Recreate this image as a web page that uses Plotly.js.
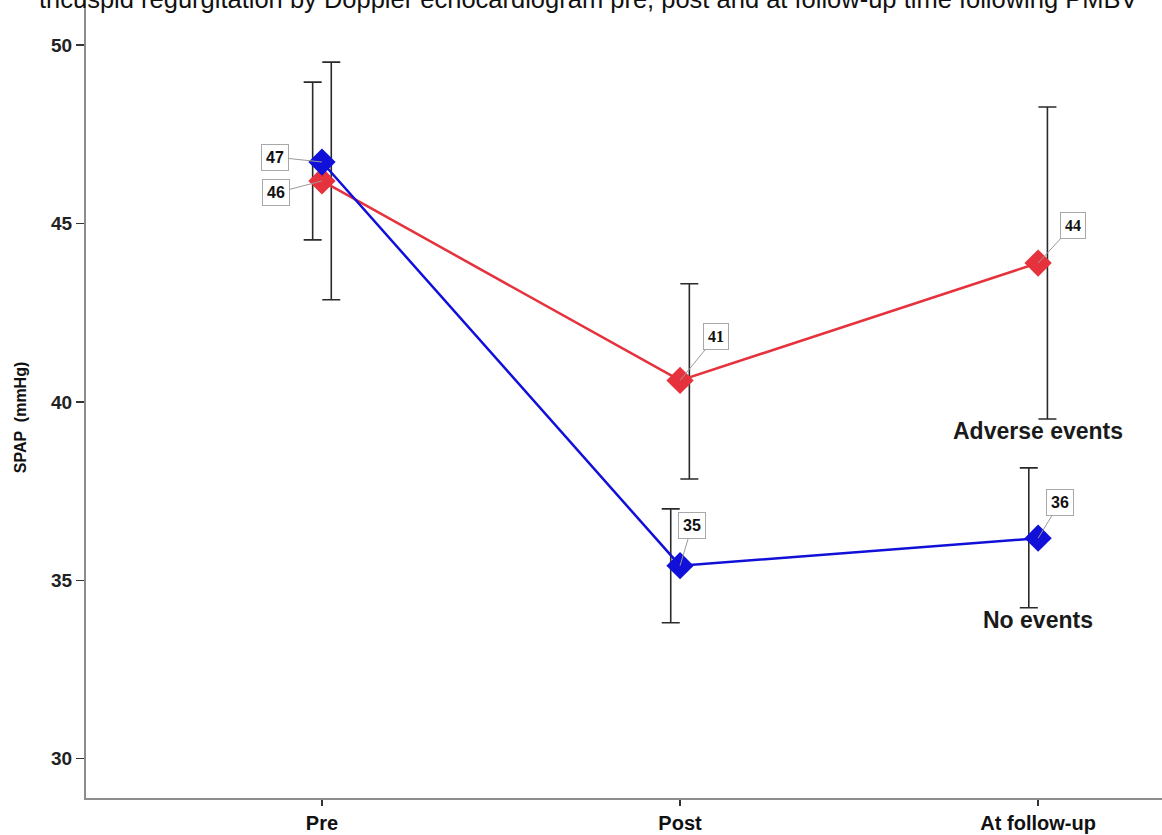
<!DOCTYPE html>
<html>
<head>
<meta charset="utf-8">
<script src="https://cdn.plot.ly/plotly-3.0.1.min.js"></script>
<style>html,body{margin:0;padding:0;background:#fff;}#chart{width:1162px;height:835px;}</style>
</head>
<body>
<div id="chart"></div>
<script>
// ---- data ----
var categories = ["Pre", "Post", "At follow-up"];
var adverseMean = [46.19, 40.60, 43.89];
var adverseUpper = [49.52, 43.31, 48.26];
var adverseLower = [42.86, 37.84, 39.52];
var noEventsMean = [46.72, 35.41, 36.18];
var noEventsUpper = [48.96, 37.00, 38.15];
var noEventsLower = [44.54, 33.81, 34.23];
var seriesNames = ["Adverse events", "No events"];
var yTicks = [30, 35, 40, 45, 50];
var titleText = "tricuspid regurgitation by Doppler echocardiogram pre, post and at follow-up time following PMBV";
var yTitle = "SPAP  (mmHg)";

// ---- styles ----
var RED = "#e5323c", BLUE = "#1010d8", ERR = "#2a2a2a";
var SANS = "Liberation Sans, Arial, sans-serif";
var idx = categories.map(function (c, i) { return i; });
var errOffset = 0.026;

function errTrace(mean, up, lo, off) {
  return {
    x: idx.map(function (i) { return i + off; }), y: mean, mode: "markers",
    marker: { size: 1, opacity: 0 }, hoverinfo: "skip", showlegend: false,
    error_y: { type: "data", symmetric: false,
      array: mean.map(function (m, i) { return up[i] - m; }),
      arrayminus: mean.map(function (m, i) { return m - lo[i]; }),
      color: ERR, thickness: 1.6, width: 9 }
  };
}

var traces = [
  errTrace(adverseMean, adverseUpper, adverseLower, errOffset),
  errTrace(noEventsMean, noEventsUpper, noEventsLower, -errOffset),
  { x: idx, y: adverseMean, name: seriesNames[0], mode: "lines+markers",
    line: { color: RED, width: 2.5 }, marker: { symbol: "diamond", size: 21, color: RED }, showlegend: false },
  { x: idx, y: noEventsMean, name: seriesNames[1], mode: "lines+markers",
    line: { color: BLUE, width: 2.5 }, marker: { symbol: "diamond", size: 21, color: BLUE }, showlegend: false }
];

function valLabel(i, v, ax, ay, serif) {
  return { x: i, y: v, xref: "x", yref: "y", text: String(Math.round(v)),
    showarrow: true, arrowhead: 0, arrowwidth: 1, arrowcolor: "#9a9a9a", ax: ax, ay: ay,
    bordercolor: "#a8a8a8", borderwidth: 1, borderpad: 4, bgcolor: "#ffffff",
    font: { family: serif ? "Liberation Serif, Times New Roman, serif" : SANS,
            size: 16, color: "#111", weight: 700 } };
}

var annotations = [
  valLabel(0, noEventsMean[0], -47, -5, false),
  valLabel(0, adverseMean[0], -46, 12, false),
  valLabel(1, adverseMean[1], 36, -44, true),
  valLabel(1, noEventsMean[1], 12, -40, false),
  valLabel(2, adverseMean[2], 35, -38, true),
  valLabel(2, noEventsMean[2], 22, -36, false),
  { x: 2, y: adverseLower[2], xref: "x", yref: "y", text: seriesNames[0], showarrow: false,
    yanchor: "top", yshift: 3, font: { family: SANS, size: 23, color: "#1a1a1a", weight: 700 } },
  { x: 2, y: noEventsLower[2], xref: "x", yref: "y", text: seriesNames[1], showarrow: false,
    yanchor: "top", yshift: 3, font: { family: SANS, size: 23, color: "#1a1a1a", weight: 700 } },
  { x: 0, y: 1, xref: "paper", yref: "paper", text: titleText, showarrow: false,
    xanchor: "center", yanchor: "middle", yshift: 1, xshift: 502,
    font: { family: SANS, size: 25.5, color: "#111" } },
  { x: 0, y: 0.476, xref: "paper", yref: "paper", text: yTitle, showarrow: false,
    textangle: -90, xanchor: "center", yanchor: "middle", xshift: -66,
    font: { family: SANS, size: 16, color: "#111", weight: 700 } }
];

var layout = {
  width: 1162, height: 835,
  margin: { l: 86, r: 0, t: 0, b: 37 },
  paper_bgcolor: "#ffffff", plot_bgcolor: "#ffffff",
  showlegend: false,
  xaxis: { range: [-0.659, 2.346], tickmode: "array", tickvals: idx, ticktext: categories,
    showgrid: false, zeroline: false, showline: true, linecolor: "#8c8c8c", linewidth: 2,
    ticks: "outside", ticklen: 6, tickwidth: 1.5, tickcolor: "#333",
    tickfont: { family: SANS, size: 20, color: "#111", weight: 700 } },
  yaxis: { range: [28.9, 51.26], tickmode: "array", tickvals: yTicks,
    showgrid: false, zeroline: false, showline: true, linecolor: "#8c8c8c", linewidth: 2,
    ticks: "outside", ticklen: 8, tickwidth: 1.5, tickcolor: "#333",
    tickfont: { family: SANS, size: 19, color: "#222", weight: 700 } },
  annotations: annotations
};

Plotly.newPlot("chart", traces, layout, { displayModeBar: false, staticPlot: true });
</script>
</body>
</html>
